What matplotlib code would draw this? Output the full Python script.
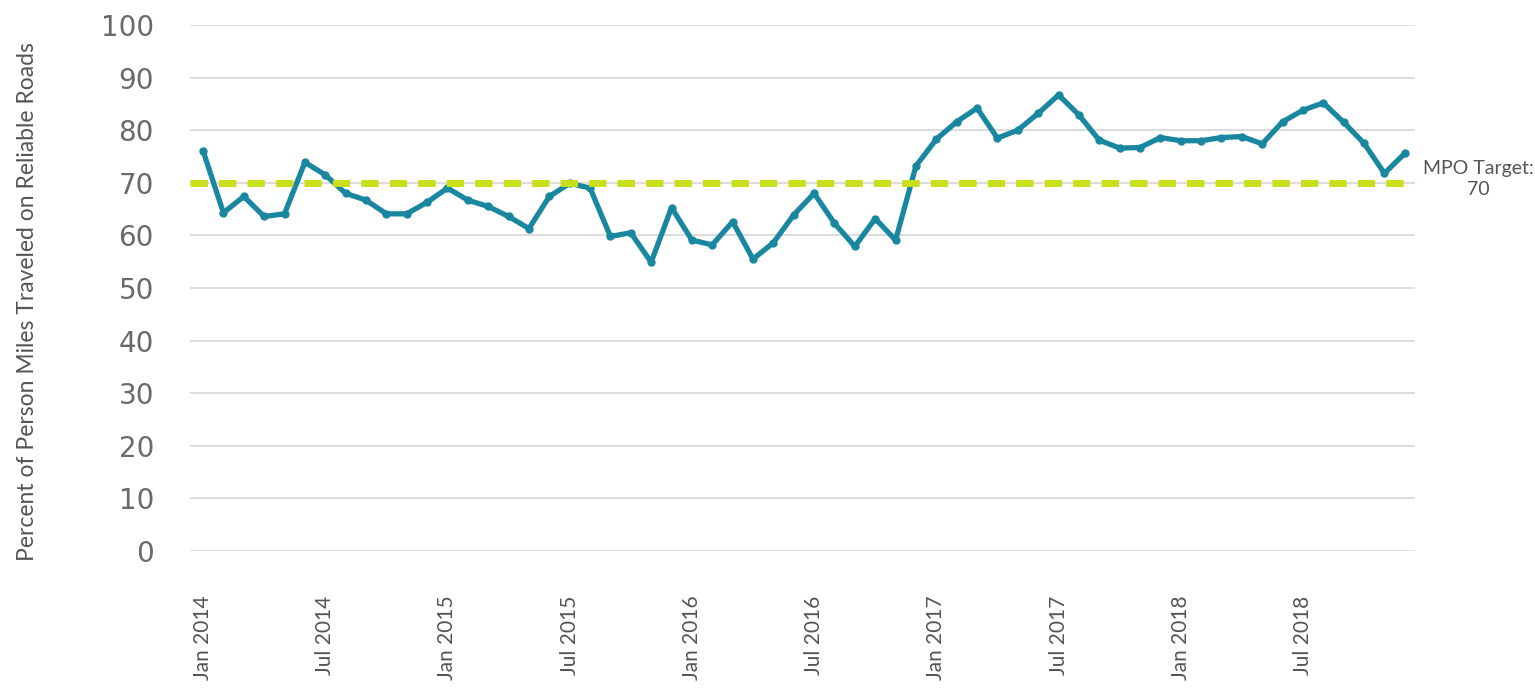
import matplotlib
matplotlib.use("Agg")
import matplotlib.pyplot as plt

# monthly values Jan 2014 - Dec 2018
months = ["Jan", "Feb", "Mar", "Apr", "May", "Jun",
          "Jul", "Aug", "Sep", "Oct", "Nov", "Dec"]
years = [2014, 2015, 2016, 2017, 2018]
pct_2014 = [76.1, 64.3, 67.4, 63.6, 64.1, 73.9, 71.5, 68.0, 66.7, 64.1, 64.1, 66.3]
pct_2015 = [69.0, 66.7, 65.5, 63.6, 61.3, 67.4, 69.9, 69.0, 59.8, 60.5, 54.9, 65.3]
pct_2016 = [59.1, 58.2, 62.6, 55.5, 58.6, 63.9, 68.0, 62.3, 57.9, 63.2, 59.1, 73.2]
pct_2017 = [78.3, 81.6, 84.2, 78.5, 80.0, 83.2, 86.7, 82.9, 78.1, 76.6, 76.7, 78.6]
pct_2018 = [78.0, 78.0, 78.6, 78.8, 77.4, 81.6, 83.8, 85.2, 81.5, 77.5, 71.8, 75.6]
target = 70

values = pct_2014 + pct_2015 + pct_2016 + pct_2017 + pct_2018
labels = [m + " " + str(y) for y in years for m in months]
x = list(range(len(values)))

plt.rcParams["font.family"] = ["Lato", "DejaVu Sans"]

fig = plt.figure(figsize=(15.35, 6.88), dpi=100)
ax = fig.add_axes([190/1535, 1-551/688, (1415-190)/1535, (551-25)/688])

ax.set_ylim(0, 100)
ax.set_xlim(-0.64, 59.5)
ax.set_yticks(range(0, 101, 10))
ax.yaxis.grid(True, color="#d9d9d9", linewidth=1.3)
ax.set_axisbelow(True)
for s in ax.spines.values():
    s.set_visible(False)
ax.tick_params(length=0)

ax.plot(x, values, color="#1a87a0", linewidth=3.8, marker="o", markersize=5,
        solid_joinstyle="round", zorder=3)
ax.axhline(target, color="#c8df1a", linewidth=5, dashes=(2.5, 1.6),
           dash_capstyle="butt", zorder=4)

# x ticks every six months
tick_pos = x[::6]
ax.set_xticks(tick_pos)
ax.set_xticklabels([labels[i] for i in tick_pos], rotation=90, fontsize=15,
                   color="#555555", va="top")
ax.tick_params(axis="x", pad=32)
for t in ax.get_yticklabels():
    t.set_family(["DejaVu Sans"])
ax.tick_params(axis="y", labelsize=20, labelcolor="#6a6a6a", pad=26)

fig.text(28/1535, 1-302/688, "Percent of Person Miles Traveled on Reliable Roads",
         rotation=90, ha="center", va="center", fontsize=16.5, color="#555555")
fig.text(1423/1535, 1-179/688, "MPO Target:\n70", ha="left", va="center",
         multialignment="center", fontsize=14, color="#555555", linespacing=1.3)

fig.savefig("out.png", dpi=100)
